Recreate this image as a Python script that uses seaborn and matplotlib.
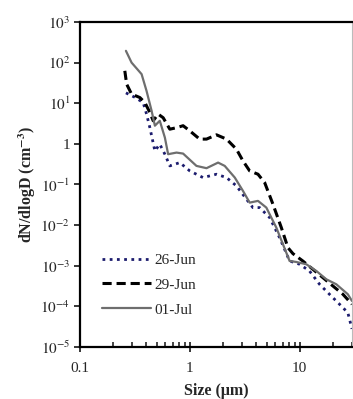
import matplotlib
matplotlib.use("Agg")
import matplotlib.pyplot as plt
import matplotlib.ticker as mticker
import seaborn as sns
import pandas as pd

# Data
size_jun26 = [0.262, 0.316, 0.376, 0.404, 0.433, 0.481, 0.533, 0.593, 0.658, 0.811, 1.0,
              1.32, 1.75, 2.16, 2.66, 3.28, 3.76, 4.33, 5.34, 6.58, 8.11, 10.0, 12.3,
              15.2, 18.7, 23.1, 27.5, 30.0]
dn_jun26 = [18, 14, 10.4, 5.4, 2.5, 0.67, 0.98, 0.557, 0.287, 0.346, 0.216,
            0.148, 0.179, 0.148, 0.0924, 0.0435, 0.027, 0.027, 0.0153, 0.0049, 0.00131, 0.00109, 0.000745,
            0.00035, 0.000199, 0.000113, 0.00007, 0.000028]

size_jun29 = [0.256, 0.266, 0.295, 0.351, 0.390, 0.433, 0.464, 0.515, 0.572, 0.658, 0.757,
              0.869, 1.0, 1.23, 1.42, 1.75, 2.16, 2.66, 3.05, 3.51, 4.18, 4.81, 5.72,
              6.82, 7.83, 8.69, 10.7, 13.2, 16.3, 20.1, 24.8, 30.0]
dn_jun29 = [62.8, 29.5, 16.8, 13.8, 10.4, 5.9, 3.7, 5.4, 4.4, 2.3, 2.5,
            2.8, 2.09, 1.31, 1.31, 1.67, 1.31, 0.74, 0.381, 0.216, 0.179, 0.111, 0.0327,
            0.00868, 0.00279, 0.00199, 0.00131, 0.00082, 0.00051, 0.000318, 0.000199, 0.000113]

size_jul01 = [0.262, 0.295, 0.364, 0.404, 0.449, 0.481, 0.533, 0.593, 0.635, 0.757, 0.869,
              1.15, 1.42, 1.81, 2.08, 2.57, 3.05, 3.51, 4.18, 4.98, 6.14, 8.11, 9.33,
              11.5, 14.2, 17.5, 21.6, 27.5, 30.0]
dn_jul01 = [195, 100, 52, 20, 6.5, 2.8, 3.7, 1.43, 0.557, 0.61, 0.577,
            0.287, 0.252, 0.346, 0.287, 0.148, 0.0696, 0.0358, 0.0395, 0.027, 0.00868, 0.00131, 0.00124,
            0.00109, 0.000745, 0.000465, 0.00035, 0.000199, 0.000136]

series_labels = ["26-Jun", "29-Jun", "01-Jul"]
x_tick_values = [0.1, 1, 10]
x_tick_labels = ["0.1", "1", "10"]
y_tick_exponents = [3, 2, 1, 0, -1, -2, -3, -4, -5]

sns.set_style("white")
plt.rcParams["font.family"] = ["Liberation Serif", "DejaVu Serif"]
plt.rcParams["mathtext.fontset"] = "stix"

df = pd.concat([
    pd.DataFrame({"size": size_jun26, "dn": dn_jun26, "date": series_labels[0]}),
    pd.DataFrame({"size": size_jun29, "dn": dn_jun29, "date": series_labels[1]}),
    pd.DataFrame({"size": size_jul01, "dn": dn_jul01, "date": series_labels[2]}),
], ignore_index=True)

fig = plt.figure(figsize=(3.53, 3.99), dpi=100)
ax = fig.add_axes([0.2266, 0.1303, 0.7705, 0.8146])

styles = {
    "26-Jun": dict(color="#1c1c6e", linestyle=(0, (1, 1.6)), linewidth=2.0),
    "29-Jun": dict(color="black", linestyle=(0, (3, 1.6)), linewidth=2.2),
    "01-Jul": dict(color="#6e6e6e", linestyle="-", linewidth=1.6),
}
for lab in series_labels:
    sub = df[df["date"] == lab]
    sns.lineplot(data=sub, x="size", y="dn", ax=ax, label=lab, sort=False,
                 estimator=None, **styles[lab])

ax.set_xscale("log")
ax.set_yscale("log")
ax.set_xlim(0.1, 30)
ax.set_ylim(1e-5, 1e3)

ax.set_xticks(x_tick_values)
ax.set_xticklabels(x_tick_labels)
ax.xaxis.set_minor_locator(mticker.LogLocator(base=10, subs=range(2, 10)))
ax.xaxis.set_minor_formatter(mticker.NullFormatter())
yt = [10.0 ** e for e in y_tick_exponents]
ax.set_yticks(yt)
ax.set_yticklabels([("1" if e == 0 else r"$10^{%d}$" % e) for e in y_tick_exponents])
ax.yaxis.set_minor_locator(mticker.NullLocator())

ax.tick_params(axis="x", which="major", direction="inout", length=7, width=1.3,
               labelsize=11, pad=7, bottom=True)
ax.tick_params(axis="x", which="minor", direction="in", length=3.5, width=1.2, bottom=True)
ax.tick_params(axis="y", which="major", direction="out", length=4, width=1.3,
               labelsize=11, left=True, pad=3)

for s in ["left", "bottom", "top"]:
    ax.spines[s].set_color("black")
    ax.spines[s].set_linewidth(1.6)
ax.spines["right"].set_color("#bbbbbb")
ax.spines["right"].set_linewidth(0.8)

ax.set_xlabel("Size (μm)", fontsize=11.5, fontweight="bold", labelpad=6)
ax.set_ylabel("dN/dlogD (cm$^{\\mathbf{-3}}$)", fontsize=11.5, fontweight="bold", labelpad=2)

leg = ax.legend(loc="lower left", bbox_to_anchor=(0.06, 0.075), frameon=False,
                fontsize=11, handlelength=3.2, handletextpad=0.2, labelspacing=0.72,
                borderaxespad=0)

fig.savefig("out.png", dpi=100)
